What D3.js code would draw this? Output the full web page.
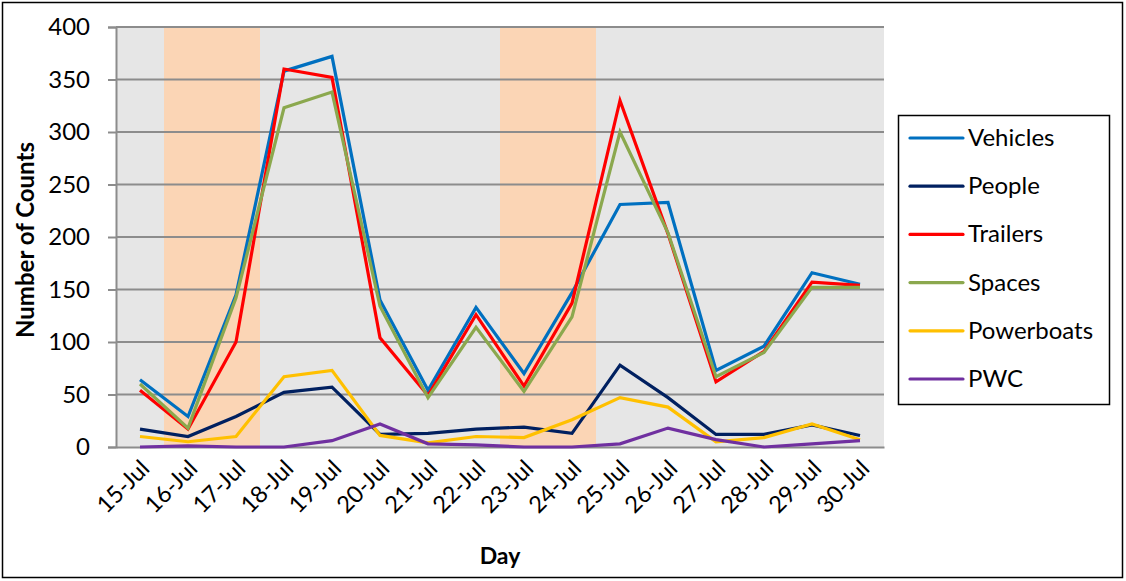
<!DOCTYPE html>
<html><head><meta charset="utf-8">
<script src="https://cdn.jsdelivr.net/npm/d3@7"></script>
<style>body{margin:0;background:#fff}svg{display:block}text{font-family:Lato,"Open Sans",sans-serif}</style>
</head><body>
<svg id="c" width="1126" height="581"></svg>
<script>
const days = ["15-Jul","16-Jul","17-Jul","18-Jul","19-Jul","20-Jul","21-Jul","22-Jul","23-Jul","24-Jul","25-Jul","26-Jul","27-Jul","28-Jul","29-Jul","30-Jul"];
const vehicles   = [64, 29, 145, 358, 372, 140, 54, 133, 70, 147, 231, 233, 73, 96, 166, 155];
const people     = [17, 10, 29, 52, 57, 12, 13, 17, 19, 13, 78, 47, 12, 12, 21, 11];
const trailers   = [54, 17, 100, 360, 352, 104, 49, 126, 58, 137, 330, 203, 62, 91, 157, 154];
const spaces     = [60, 18, 142, 323, 338, 134, 47, 114, 53, 124, 300, 204, 67, 90, 152, 152];
const powerboats = [10, 5, 10, 67, 73, 11, 4, 10, 9, 26, 47, 38, 5, 9, 22, 7];
const pwc        = [0, 1, 0, 0, 6, 22, 3, 2, 0, 0, 3, 18, 7, 0, 3, 6];
const weekendDays = ["16-Jul","17-Jul","23-Jul","24-Jul"];
const weekendValue = 400;
const yTicks = [0,50,100,150,200,250,300,350,400];

const seriesNames = ["Vehicles","People","Trailers","Spaces","Powerboats","PWC"];
const seriesData = [vehicles, people, trailers, spaces, powerboats, pwc];
const colors = ["#0070C0","#002060","#FF0000","#8BA84E","#FFC000","#7030A0"];

const svg = d3.select("#c");
const L = 116, R = 884, T = 27, B = 447;
const x = d3.scaleBand().domain(days).range([L, R]).padding(0);
const y = d3.scaleLinear().domain([0, 400]).range([B, T]);

svg.append("rect").attr("x",2.5).attr("y",2.5).attr("width",1120).attr("height",575)
  .attr("fill","#fff").attr("stroke","#000").attr("stroke-width",1.5);

svg.append("rect").attr("x",L).attr("y",T).attr("width",R-L).attr("height",B-T).attr("fill","#E6E6E6");

svg.selectAll("rect.wk").data(weekendDays).join("rect").attr("class","wk")
  .attr("x", d => x(d)).attr("width", x.bandwidth())
  .attr("y", y(weekendValue)).attr("height", y(0)-y(weekendValue))
  .attr("fill","#FBD5B5");

svg.append("g").selectAll("line").data(yTicks.filter(t=>t>0)).join("line")
  .attr("x1",L).attr("x2",R).attr("y1",d=>y(d)).attr("y2",d=>y(d))
  .attr("stroke","#8C8C8C").attr("stroke-width",2);

const ya = svg.append("g").attr("transform",`translate(${L},0)`)
  .call(d3.axisLeft(y).tickValues(yTicks).tickSize(8).tickPadding(18));
ya.select(".domain").attr("stroke","#8C8C8C").attr("stroke-width",2);
ya.selectAll(".tick line").attr("stroke","#8C8C8C").attr("stroke-width",2);
ya.selectAll("text").attr("font-size",24).attr("fill","#000").attr("font-family","Lato, sans-serif");

const xa = svg.append("g").attr("transform",`translate(0,${B})`)
  .call(d3.axisBottom(x).tickSize(0).tickSizeOuter(0));
xa.select(".domain").attr("stroke","#8C8C8C").attr("stroke-width",2);
xa.selectAll("text").attr("font-size",23.5).attr("fill","#000").attr("font-family","Lato, sans-serif")
  .attr("text-anchor","end").attr("dy",0).attr("y",0)
  .attr("transform","translate(11,23) rotate(-45)");

const line = d3.line().x((d,i)=>x(days[i])+x.bandwidth()/2).y(d=>y(d));
seriesData.forEach((s,k)=>{
  svg.append("path").datum(s).attr("d",line).attr("fill","none")
    .attr("stroke",colors[k]).attr("stroke-width",3.2).attr("stroke-linejoin","miter");
});

svg.append("text").attr("transform","translate(34,240) rotate(-90)").attr("text-anchor","middle")
  .attr("font-size",24).attr("font-weight","bold").text("Number of Counts");
svg.append("text").attr("x",500).attr("y",564).attr("text-anchor","middle")
  .attr("font-size",23).attr("font-weight","bold").text("Day");

svg.append("rect").attr("x",898.5).attr("y",115.5).attr("width",211).attr("height",289)
  .attr("fill","#fff").attr("stroke","#000").attr("stroke-width",1.5);
const lg = svg.append("g").selectAll("g").data(seriesNames).join("g")
  .attr("transform",(d,i)=>`translate(910,${138+i*48.2})`);
lg.append("line").attr("x1",0).attr("x2",53).attr("stroke",(d,i)=>colors[i]).attr("stroke-width",3.2).attr("stroke-linecap","round");
lg.append("text").attr("x",58).attr("y",8).attr("font-size",24).text(d=>d);
</script>
</body></html>
